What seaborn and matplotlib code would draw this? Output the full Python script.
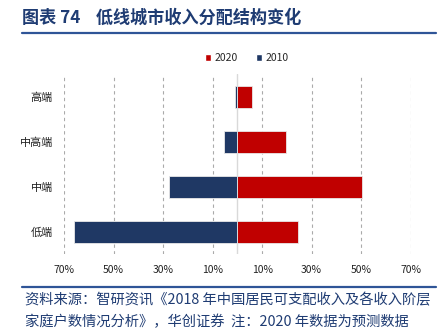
import numpy as np
import pandas as pd
import matplotlib
matplotlib.use("Agg")
import matplotlib.pyplot as plt
from matplotlib.lines import Line2D
from matplotlib.patches import Patch
import seaborn as sns

categories = ["高端", "中高端", "中端", "低端"]
v2020 = [6.0, 19.7, 50.3, 24.4]
v2010 = [0.8, 5.3, 27.5, 66.1]
tick_values = [-70, -50, -30, -10, 10, 30, 50, 70]
tick_labels = ["70%", "50%", "30%", "10%", "10%", "30%", "50%", "70%"]
title = "图表 74    低线城市收入分配结构变化"
source_lines = ["资料来源：智研资讯《2018 年中国居民可支配收入及各收入阶层",
                "家庭户数情况分析》，华创证券  注：2020 年数据为预测数据"]

sns.set_theme(style="white")
plt.rcParams['font.family'] = ['Noto Sans CJK SC', 'DejaVu Sans']

RED = "#C00000"
NAVY = "#1F3864"
TITLE_BLUE = "#1F3C73"

df = pd.DataFrame({"cat": categories, "y2020": v2020, "y2010": [-v for v in v2010]})

fig = plt.figure(figsize=(4.42, 3.28), dpi=100)
ax = fig.add_axes([0.145, 0.225, 0.784, 0.549])

sns.barplot(data=df, y="cat", x="y2020", color=RED, orient="h", width=0.49,
            ax=ax, saturation=1, edgecolor="#E8E8E8", linewidth=0.6)
sns.barplot(data=df, y="cat", x="y2010", color=NAVY, orient="h", width=0.49,
            ax=ax, saturation=1, edgecolor="#E8E8E8", linewidth=0.6)

ax.set_xlim(-70, 70)
ax.set_ylim(3.5, -0.5)
ax.set_xticks(tick_values)
ax.set_xticklabels(tick_labels, fontsize=7.5, color="#222222")
ax.tick_params(axis="y", labelsize=8, colors="#222222", length=0, pad=8)
ax.tick_params(axis="x", length=0, pad=8)
ax.set_xlabel("")
ax.set_ylabel("")
for s in ax.spines.values():
    s.set_visible(False)
for t in tick_values:
    ax.axvline(t, color="#AAAAAA", linestyle=(0, (3, 3)), linewidth=0.8, zorder=0)
ax.axvline(0, color="#D9D9D9", linewidth=1.0, zorder=0)
ax.set_axisbelow(True)

handles = [Patch(facecolor=RED, label="2020"), Patch(facecolor=NAVY, label="2010")]
fig.legend(handles=handles, loc="center", bbox_to_anchor=(0.558, 0.823), ncol=2,
           frameon=False, fontsize=7.5, handlelength=0.6, handleheight=0.6,
           handletextpad=0.3, columnspacing=1.8)

fig.text(0.05, 0.945, title, fontsize=12.3, fontweight="bold", color=TITLE_BLUE,
         va="center", ha="left")
fig.add_artist(Line2D([0.05, 0.987], [0.898, 0.898], color="#2F5597", linewidth=1.6))
fig.add_artist(Line2D([0.05, 0.987], [0.126, 0.126], color="#2F5597", linewidth=1.6))
fig.text(0.057, 0.085, source_lines[0], fontsize=10.3, color=TITLE_BLUE,
         va="center", ha="left", style="italic")
fig.text(0.057, 0.018, source_lines[1], fontsize=10.3, color=TITLE_BLUE,
         va="center", ha="left", style="italic")

fig.savefig("out.png", dpi=100)
